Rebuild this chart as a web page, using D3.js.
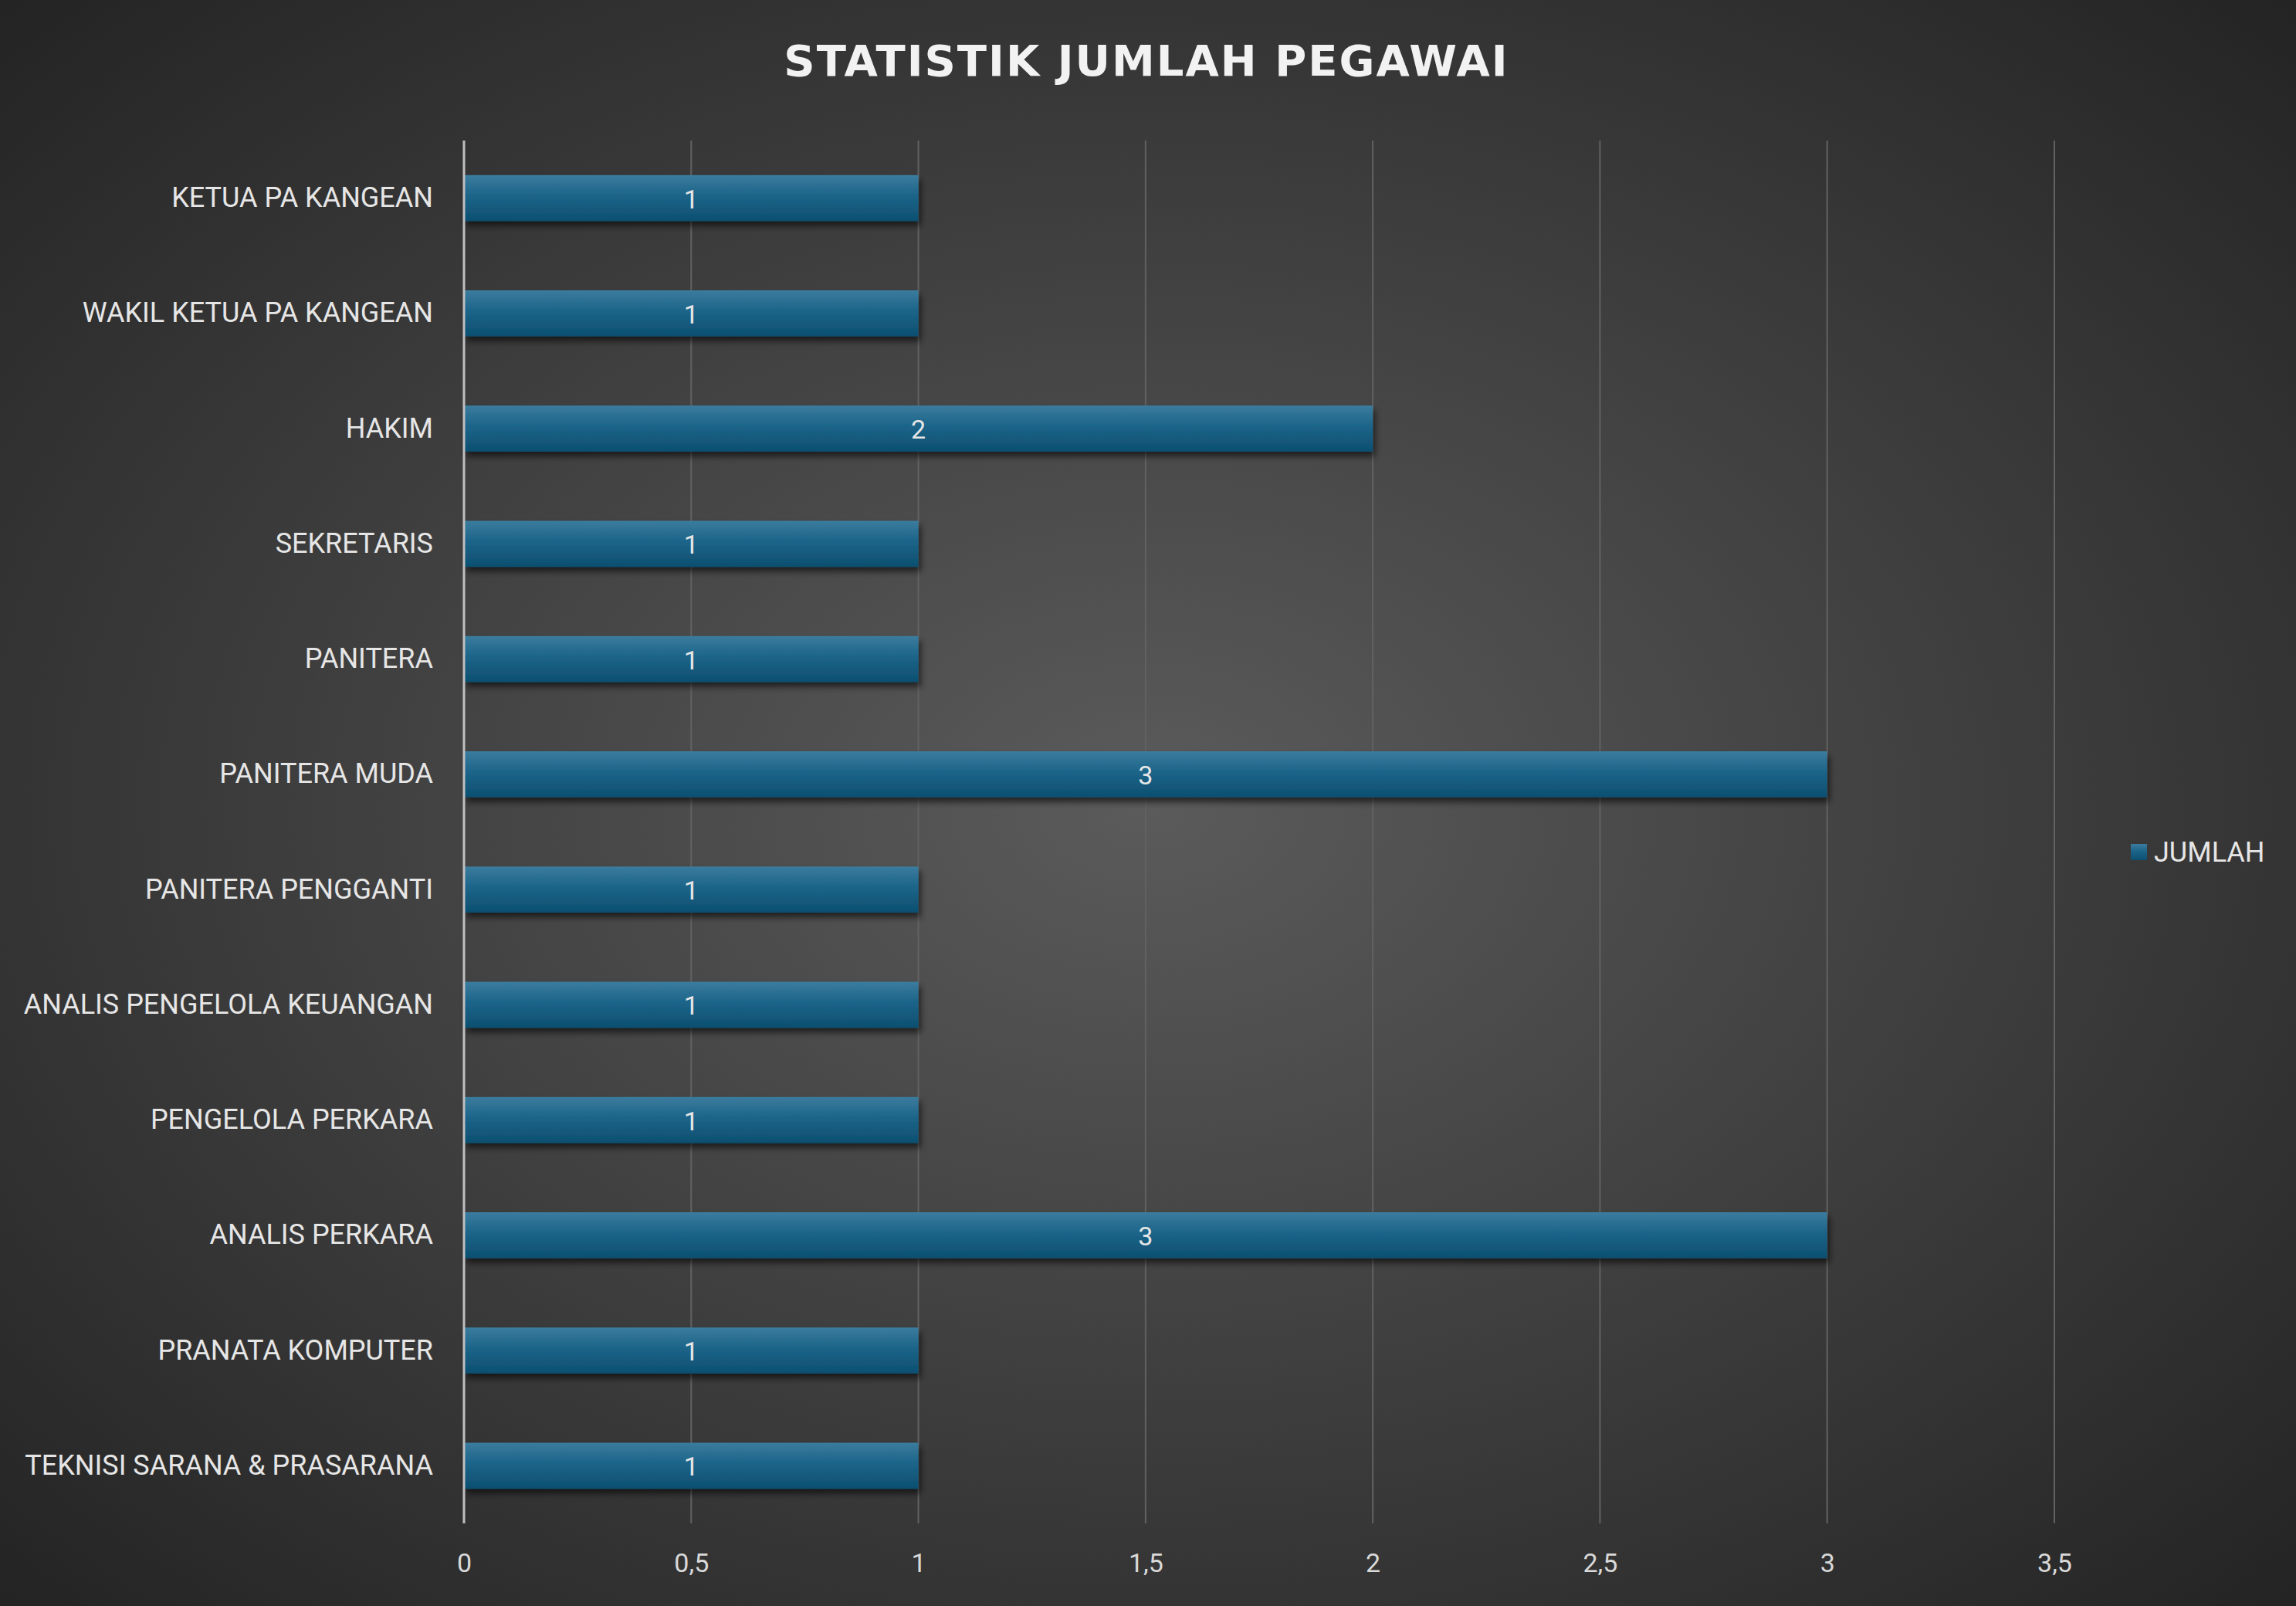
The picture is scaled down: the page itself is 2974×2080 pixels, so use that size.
<!DOCTYPE html>
<html><head><meta charset="utf-8">
<script src="https://cdn.jsdelivr.net/npm/d3@7"></script>
<style>body{margin:0;background:#333}svg{display:block}</style>
</head><body>
<script>
var categories = ["KETUA PA KANGEAN","WAKIL KETUA PA KANGEAN","HAKIM","SEKRETARIS","PANITERA","PANITERA MUDA","PANITERA PENGGANTI","ANALIS PENGELOLA KEUANGAN","PENGELOLA PERKARA","ANALIS PERKARA","PRANATA KOMPUTER","TEKNISI SARANA & PRASARANA"]
var jumlah = [1,1,2,1,1,3,1,1,1,3,1,1]
var ticks = [0,0.5,1,1.5,2,2.5,3,3.5]
var seriesName = "JUMLAH"

var W = 2974, H = 2080
var font = "'Liberation Sans Narrow','Roboto',sans-serif"
var svg = d3.select("body").append("svg").attr("width", W).attr("height", H)
var defs = svg.append("defs")
var bg = defs.append("radialGradient").attr("id","bg").attr("cx","50%").attr("cy","50%").attr("r","70%")
bg.append("stop").attr("offset","0%").attr("stop-color","#5b5b5b")
bg.append("stop").attr("offset","100%").attr("stop-color","#242424")
var bar = defs.append("linearGradient").attr("id","bar").attr("x1",0).attr("y1",0).attr("x2",0).attr("y2",1)
bar.append("stop").attr("offset","0%").attr("stop-color","#3b7c9e")
bar.append("stop").attr("offset","45%").attr("stop-color","#1c6489")
bar.append("stop").attr("offset","100%").attr("stop-color","#0d4f70")
var sh = defs.append("filter").attr("id","sh").attr("x","-5%").attr("y","-30%").attr("width","110%").attr("height","180%")
sh.append("feDropShadow").attr("dx",3).attr("dy",6).attr("stdDeviation",4).attr("flood-color","#000").attr("flood-opacity",0.6)

svg.append("rect").attr("width",W).attr("height",H).attr("fill","url(#bg)")

svg.append("text").attr("x",1485).attr("y",98).attr("text-anchor","middle")
  .attr("font-family","'DejaVu Sans',sans-serif").attr("font-weight","bold").attr("font-size",56)
  .attr("letter-spacing",2).attr("fill","#f2f2f2").text("STATISTIK JUMLAH PEGAWAI")

var x = d3.scaleLinear().domain([0,3.5]).range([601,2661])
var y = d3.scaleBand().domain(categories).range([182,1973]).paddingInner(0.6).paddingOuter(0.3)

svg.append("g").selectAll("line").data(ticks.slice(1)).join("line")
  .attr("x1",d=>x(d)).attr("x2",d=>x(d)).attr("y1",182).attr("y2",1973)
  .attr("stroke","#626262").attr("stroke-width",2)

var xAxis = svg.append("g").attr("transform","translate(0,1985)")
  .call(d3.axisBottom(x).tickValues(ticks).tickSize(0).tickPadding(27).tickFormat(d=>String(d).replace(".",",")))
xAxis.select(".domain").remove()
xAxis.selectAll("text").attr("font-family",font).attr("font-size",34).attr("fill","#d9d9d9")

svg.append("g").selectAll("rect").data(jumlah).join("rect")
  .attr("x",x(0)).attr("y",(d,i)=>y(categories[i])).attr("width",d=>x(d)-x(0)).attr("height",y.bandwidth())
  .attr("fill","url(#bar)").attr("filter","url(#sh)")

svg.append("g").selectAll("text").data(jumlah).join("text")
  .attr("x",d=>(x(0)+x(d))/2).attr("y",(d,i)=>y(categories[i])+y.bandwidth()/2+13)
  .attr("text-anchor","middle").attr("font-family",font).attr("font-size",34).attr("fill","#e6e6e6").text(d=>d)

var yAxis = svg.append("g").attr("transform","translate(601,0)")
  .call(d3.axisLeft(y).tickSize(0).tickPadding(40))
yAxis.select(".domain").attr("stroke","#bfbfbf").attr("stroke-width",3)
  .attr("d","M0,182V1973")
yAxis.selectAll("text").attr("font-family",font).attr("font-size",36).attr("fill","#e6e6e6")

svg.append("rect").attr("x",2760).attr("y",1093).attr("width",21).attr("height",21).attr("fill","url(#bar)")
svg.append("text").attr("x",2790).attr("y",1116).attr("font-family",font).attr("font-size",36)
  .attr("fill","#e6e6e6").text(seriesName)
</script>
</body></html>
